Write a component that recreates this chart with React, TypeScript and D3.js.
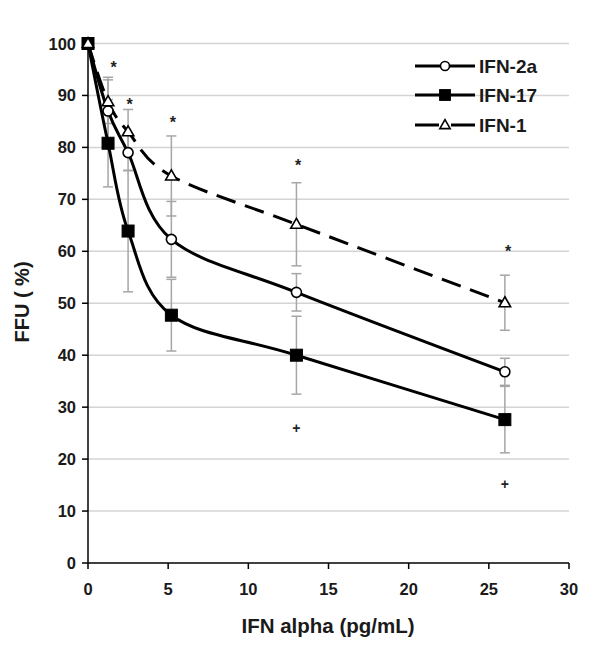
import React from "react";
import * as d3 from "d3";

const xValues = [0, 1.25, 2.5, 5.2, 13, 26];
const ifn2a = [100, 87, 79, 62.3, 52.1, 36.8];
const ifn2aErr = [0, 6.5, 3.5, 7.3, 3.6, 2.6];
const ifn17 = [100, 80.8, 63.9, 47.7, 40.0, 27.6];
const ifn17Err = [0, 8.4, 11.7, 6.9, 7.5, 6.4];
const ifn1 = [100, 88.8, 83.0, 74.5, 65.2, 50.1];
const ifn1Err = [0, 4.2, 4.3, 7.7, 8.0, 5.3];
const starX = [1.6, 2.6, 5.3, 13.1, 26.2];
const starY = [96.1, 88.9, 85.4, 77.2, 60.7];
const plusX = [13, 26];
const plusY = [26.0, 15.2];
const xTicks = [0, 5, 10, 15, 20, 25, 30];
const yTicks = [0, 10, 20, 30, 40, 50, 60, 70, 80, 90, 100];
const seriesNames = ["IFN-2a", "IFN-17", "IFN-1"];
const xTitle = "IFN alpha (pg/mL)";
const yTitle = "FFU ( %)";

const W = 600;
const H = 658;
const FONT = "Liberation Sans, Arial, sans-serif";

const x = d3.scaleLinear().domain([0, 30]).range([88, 569]);
const y = d3.scaleLinear().domain([0, 100]).range([563, 43.5]);

function Marker({ kind, cx, cy, s = 1 }: { kind: string; cx: number; cy: number; s?: number }) {
  if (kind === "circle")
    return <circle cx={cx} cy={cy} r={5 * s} fill="#fff" stroke="#000" strokeWidth={1.6} />;
  if (kind === "square")
    return <rect x={cx - 6 * s} y={cy - 6 * s} width={12 * s} height={12 * s} fill="#000" stroke="#000" strokeWidth={1} />;
  const h = 10 * s;
  const w = 11.5 * s;
  const p = `M${cx},${cy - h * 0.6}L${cx + w / 2},${cy + h * 0.4}L${cx - w / 2},${cy + h * 0.4}Z`;
  return <path d={p} fill="#fff" stroke="#000" strokeWidth={1.6} />;
}

export default function App() {
  const series = [
    { name: seriesNames[0], vals: ifn2a, err: ifn2aErr, kind: "circle", dash: undefined },
    { name: seriesNames[1], vals: ifn17, err: ifn17Err, kind: "square", dash: undefined },
    { name: seriesNames[2], vals: ifn1, err: ifn1Err, kind: "triangle", dash: "20,10" },
  ];
  const line = d3
    .line<[number, number]>()
    .x((d) => x(d[0]))
    .y((d) => y(d[1]))
    .curve(d3.curveCardinal.tension(0));

  const legendY = [66, 95, 125];

  return (
    <svg width={W} height={H} style={{ position: "absolute", left: 0, top: 0, background: "#fff" }} fontFamily={FONT}>
      <rect width={W} height={H} fill="#fff" />
      {yTicks.filter((t) => t > 0).map((t) => (
        <line key={t} x1={x(0)} x2={x(30)} y1={y(t)} y2={y(t)} stroke="#d4d4d4" strokeWidth={1.5} />
      ))}
      {series.map((s) =>
        xValues.map((xv, i) =>
          s.err[i] > 0 ? (
            <g key={s.name + i} stroke="#a6a6a6" strokeWidth={1.5}>
              <line x1={x(xv)} x2={x(xv)} y1={y(s.vals[i] + s.err[i])} y2={y(s.vals[i] - s.err[i])} />
              <line x1={x(xv) - 5} x2={x(xv) + 5} y1={y(s.vals[i] + s.err[i])} y2={y(s.vals[i] + s.err[i])} />
              <line x1={x(xv) - 5} x2={x(xv) + 5} y1={y(s.vals[i] - s.err[i])} y2={y(s.vals[i] - s.err[i])} />
            </g>
          ) : null
        )
      )}
      <line x1={x(0)} x2={x(0)} y1={y(0)} y2={y(100)} stroke="#000" strokeWidth={1.5} />
      <line x1={x(0)} x2={x(30)} y1={y(0)} y2={y(0)} stroke="#000" strokeWidth={1.5} />
      {yTicks.map((t) => (
        <g key={"y" + t}>
          <line x1={x(0) - 6} x2={x(0)} y1={y(t)} y2={y(t)} stroke="#000" strokeWidth={1.5} />
          <text x={76} y={y(t) + 6} textAnchor="end" fontSize={16.5} fontWeight="bold" fill="#1a1a1a">
            {t}
          </text>
        </g>
      ))}
      {xTicks.map((t) => (
        <g key={"x" + t}>
          <line x1={x(t)} x2={x(t)} y1={y(0)} y2={y(0) + 6} stroke="#000" strokeWidth={1.5} />
          <text x={x(t)} y={595} textAnchor="middle" fontSize={16.5} fontWeight="bold" fill="#1a1a1a">
            {t}
          </text>
        </g>
      ))}
      {series.map((s) => (
        <path
          key={"l" + s.name}
          d={line(xValues.map((xv, i) => [xv, s.vals[i]] as [number, number])) || ""}
          fill="none"
          stroke="#000"
          strokeWidth={3}
          strokeDasharray={s.dash}
        />
      ))}
      {series.map((s) =>
        xValues.map((xv, i) => <Marker key={s.name + "m" + i} kind={s.kind} cx={x(xv)} cy={y(s.vals[i])} />)
      )}
      {starX.map((sx, i) => (
        <text key={"s" + i} x={x(sx)} y={y(starY[i]) + 9} textAnchor="middle" fontSize={16} fontWeight="bold" fill="#222">
          *
        </text>
      ))}
      {plusX.map((px, i) => (
        <text key={"p" + i} x={x(px)} y={y(plusY[i]) + 5} textAnchor="middle" fontSize={14} fontWeight="bold" fill="#222">
          +
        </text>
      ))}
      {series.map((s, i) => (
        <g key={"lg" + s.name}>
          <line x1={415} x2={475} y1={legendY[i]} y2={legendY[i]} stroke="#000" strokeWidth={3} strokeDasharray={s.dash ? "24,12" : undefined} />
          <Marker kind={s.kind} cx={445} cy={legendY[i]} s={0.9} />
          <text x={479} y={legendY[i] + 6.5} fontSize={19} fontWeight="bold" fill="#1a1a1a">
            {s.name}
          </text>
        </g>
      ))}
      <text x={328} y={633} textAnchor="middle" fontSize={20.5} fontWeight="bold" fill="#1a1a1a">
        {xTitle}
      </text>
      <text transform={`translate(29,302) rotate(-90)`} textAnchor="middle" fontSize={20} fontWeight="bold" fill="#1a1a1a">
        {yTitle}
      </text>
    </svg>
  );
}
